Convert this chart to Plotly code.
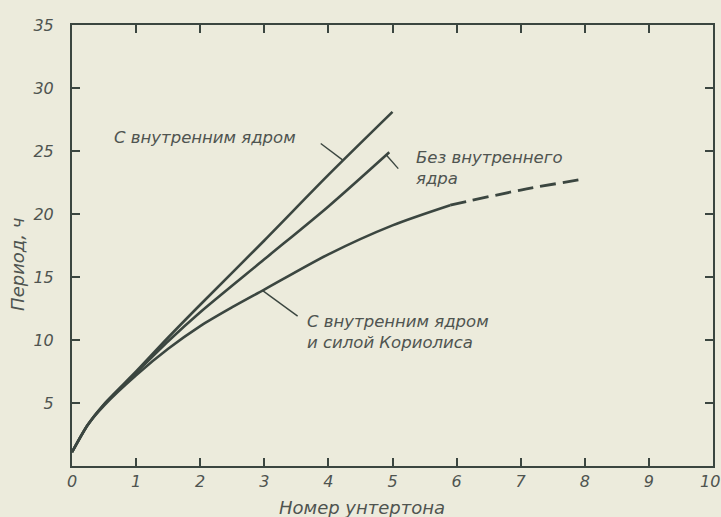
import plotly.graph_objects as go

# Data
x_core = [0, 0.25, 0.5, 1, 1.5, 2, 3, 4, 5]
y_core = [1.1, 3.3, 4.9, 7.5, 10.2, 12.8, 17.9, 23.1, 28.1]

x_nocore = [0, 0.25, 0.5, 1, 1.5, 2, 3, 4, 4.95]
y_nocore = [1.1, 3.3, 4.9, 7.4, 9.9, 12.2, 16.4, 20.6, 24.9]

x_cor_solid = [0, 0.25, 0.5, 1, 1.5, 2, 2.5, 3, 4, 5, 5.9]
y_cor_solid = [1.1, 3.3, 4.8, 7.2, 9.3, 11.1, 12.6, 14.0, 16.8, 19.1, 20.7]
x_cor_dash = [5.9, 7, 7.9]
y_cor_dash = [20.7, 21.9, 22.7]

x_ticks = [0, 1, 2, 3, 4, 5, 6, 7, 8, 9, 10]
y_ticks = [5, 10, 15, 20, 25, 30, 35]

label_core = ["С внутренним ядром"]
label_nocore = ["Без внутреннего", "ядра"]
label_cor = ["С внутренним ядром", "и силой Кориолиса"]

ink = "#3b4640"
txt = "#4f5450"
bg = "#ecebdc"
font_fam = "DejaVu Sans"

fig = go.Figure()
line_style = dict(color=ink, width=2.6, shape="spline", smoothing=0.8)
fig.add_trace(go.Scatter(x=x_core, y=y_core, mode="lines", line=line_style, showlegend=False))
fig.add_trace(go.Scatter(x=x_nocore, y=y_nocore, mode="lines", line=line_style, showlegend=False))
fig.add_trace(go.Scatter(x=x_cor_solid, y=y_cor_solid, mode="lines", line=line_style, showlegend=False))
fig.add_trace(go.Scatter(x=x_cor_dash, y=y_cor_dash, mode="lines",
                         line=dict(color=ink, width=2.8, dash="16px,7px", shape="spline"),
                         showlegend=False))

# leader lines
leader = dict(color=ink, width=1.4)
fig.add_trace(go.Scatter(x=[3.88, 4.22], y=[25.6, 24.3], mode="lines", line=leader, showlegend=False))
fig.add_trace(go.Scatter(x=[4.9, 5.09], y=[24.7, 23.6], mode="lines", line=leader, showlegend=False))
fig.add_trace(go.Scatter(x=[2.98, 3.52], y=[13.9, 11.9], mode="lines", line=leader, showlegend=False))

tfont = dict(family=font_fam, size=16.5, color=txt)


def add_label(x0, ys, lines):
    for yy, line in zip(ys, lines):
        fig.add_annotation(x=x0, y=yy, text="<i>" + line + "</i>", showarrow=False,
                           xanchor="left", yanchor="middle", font=tfont)


add_label(0.625, [26.1], label_core)
add_label(5.33, [24.5, 22.85], label_nocore)
add_label(3.64, [11.45, 9.8], label_cor)

# axis titles
fig.add_annotation(xref="paper", yref="paper", x=0.452, y=-0.095, text="<i>Номер унтертона</i>",
                   showarrow=False, xanchor="center", yanchor="middle",
                   font=dict(family=font_fam, size=18, color=txt))
fig.add_annotation(xref="paper", yref="paper", x=-0.086, y=0.458, text="<i>Период, ч</i>",
                   showarrow=False, textangle=-90, xanchor="center", yanchor="middle",
                   font=dict(family=font_fam, size=18, color=txt))

axis_common = dict(showgrid=False, zeroline=False, showline=True, linecolor=ink, linewidth=2,
                   ticks="inside", ticklen=8, tickwidth=1.5, tickcolor=ink, mirror="ticks",
                   automargin=False,
                   tickfont=dict(family=font_fam, size=16, color=txt))

x_text = [f"<i>{v}</i>" if v != x_ticks[-1] else "" for v in x_ticks]
fig.update_xaxes(range=[0, 10], tickvals=x_ticks, ticktext=x_text,
                 ticklabelstandoff=0, **axis_common)
fig.update_yaxes(range=[0, 35], tickvals=y_ticks, ticktext=[f"<i>{v}</i>" for v in y_ticks],
                 ticklabelstandoff=13, **axis_common)
# last x tick label placed by hand so it is not dropped at the page edge
fig.add_annotation(x=x_ticks[-1], xref="x", yref="paper", y=-0.036,
                   text=f"<i>{x_ticks[-1]}</i>", showarrow=False, xanchor="center",
                   yanchor="middle", xshift=-3, font=dict(family=font_fam, size=16, color=txt))

fig.update_layout(width=721, height=517, margin=dict(l=72, r=8, t=25, b=51),
                  paper_bgcolor=bg, plot_bgcolor=bg)

fig.write_html("out.html")
